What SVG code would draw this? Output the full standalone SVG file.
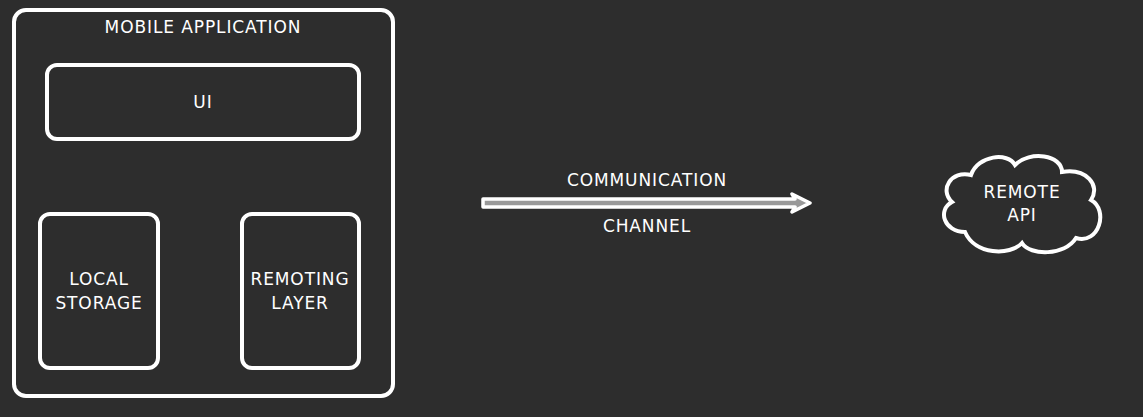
<svg xmlns="http://www.w3.org/2000/svg" width="1143" height="417" viewBox="0 0 1143 417">
<style>
.box{fill:none;stroke:#ffffff;stroke-width:4}
.t{font-family:"DejaVu Sans","Liberation Sans",sans-serif;font-size:17px;letter-spacing:0.9px;fill:#ffffff;text-anchor:middle}
</style>
<rect width="1143" height="417" fill="#2d2d2d"/>
<g id="mobile-app">
<rect class="box" x="14" y="10" width="379" height="386" rx="12"/>
<text class="t" x="203" y="33">MOBILE APPLICATION</text>
</g>
<g id="ui">
<rect class="box" x="47" y="65" width="312" height="74" rx="10"/>
<text class="t" x="203" y="108">UI</text>
</g>
<g id="local-storage">
<rect class="box" x="40" y="214" width="118" height="154" rx="10"/>
<text class="t" x="99" y="285">LOCAL</text>
<text class="t" x="99" y="309">STORAGE</text>
</g>
<g id="remoting-layer">
<rect class="box" x="242" y="214" width="117" height="154" rx="10"/>
<text class="t" x="300" y="285">REMOTING</text>
<text class="t" x="300" y="309">LAYER</text>
</g>
<g id="remote-api">
<path class="box" d="M 965 232 C 944 232, 937 210, 952 202 C 939 190, 951 170, 971 175 C 978 155, 1008 152, 1015 165 C 1030 150, 1062 155, 1062 172 C 1086 168, 1101 185, 1091 200 C 1109 210, 1099 245, 1076 238 C 1065 256, 1030 256, 1022 243 C 1010 256, 975 255, 965 232 Z"/>
<text class="t" x="1022" y="198">REMOTE</text>
<text class="t" x="1022" y="221">API</text>
</g>
<g id="connectors">
<polygon points="483,199 795,199 792,194 810,203 792,212 795,207 483,207" fill="#999999" stroke="#ffffff" stroke-width="3.5" stroke-linejoin="round"/>
<text class="t" x="647" y="186">COMMUNICATION</text>
<text class="t" x="647" y="232">CHANNEL</text>
</g>
</svg>
